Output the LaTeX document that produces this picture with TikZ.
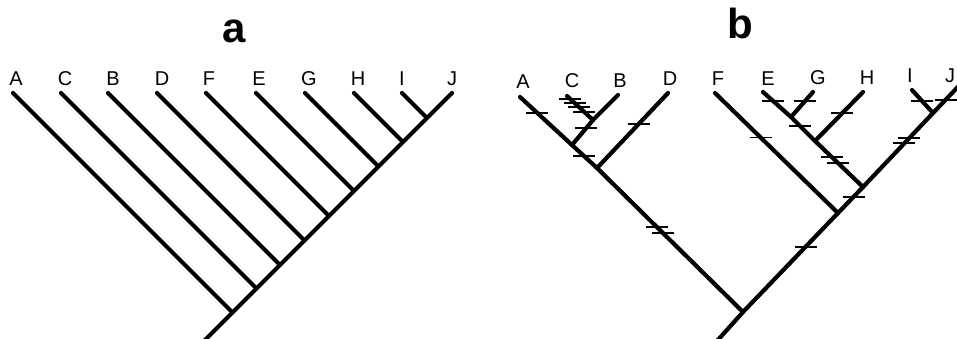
\documentclass[tikz,border=0pt]{standalone}
\usepackage{fontspec}
\setmainfont{Liberation Sans}
\usetikzlibrary{calc}

\newcommand{\hashmark}[3]{\draw[tick] ($(#1)!#3!(#2)$) ++(-11,0) -- ++(22,0);}

\begin{document}
\begin{tikzpicture}[x=1pt, y=-1pt,
  branch/.style={line width=4.2pt, line cap=round, line join=round},
  tick/.style={line width=1.7pt},
  leaf/.style={anchor=base, inner sep=0pt, font=\fontsize{20}{22}\selectfont},
  panel/.style={anchor=base, inner sep=0pt, font=\bfseries\fontsize{42}{46}\selectfont}]
  \useasboundingbox (0,0) rectangle (957,338);

  % panel a: fully pectinate tree
  \node[panel] (ta) at (234,42) {a};
  \coordinate (a0) at (204,341);
  \coordinate (taJ) at (452,93);
  \node[leaf] (laJ) at (452,85) {J};
  \draw[branch] (a0) -- (taJ);
  \foreach \n/\x/\lx in {A/13/16, C/61/65, B/108/113, D/157/162, F/206/209,
                        E/256/259, G/305/309, H/354/358, I/402/402} {
    \coordinate (ta\n) at (\x,93);
    \coordinate (na\n) at ({(451+\x)/2},{(637-\x)/2});
    \node[leaf] (la\n) at (\lx,85) {\n};
    \draw[branch] (ta\n) -- (na\n);
  }

  % panel b: tree with character changes
  \node[panel] (tb) at (740,38) {b};
  \coordinate (b0) at (717,341);
  \coordinate (bAll) at (743,312);
  \coordinate (bABCD) at (597,168);
  \coordinate (bACB) at (572,145);
  \coordinate (bCB) at (593,120);
  \coordinate (bFEGHIJ) at (838,213);
  \coordinate (bEGHIJ) at (863,187);
  \coordinate (bIJ) at (933,113);
  \coordinate (bEGH) at (815,141);
  \coordinate (bEG) at (791,117);
  \coordinate (tbA) at (520,97);
  \coordinate (tbC) at (567,96);
  \coordinate (tbB) at (618,95);
  \coordinate (tbD) at (668,93);
  \coordinate (tbF) at (715,93);
  \coordinate (tbE) at (763,92);
  \coordinate (tbG) at (813,92);
  \coordinate (tbH) at (863,92);
  \coordinate (tbI) at (912,90);
  \coordinate (tbJ) at (975,69);

  \node[leaf] (lbA) at (523,88) {A};
  \node[leaf] (lbC) at (572,87) {C};
  \node[leaf] (lbB) at (620,87) {B};
  \node[leaf] (lbD) at (670,85) {D};
  \node[leaf] (lbF) at (718,85) {F};
  \node[leaf] (lbE) at (768,85) {E};
  \node[leaf] (lbG) at (818,84) {G};
  \node[leaf] (lbH) at (867,84) {H};
  \node[leaf] (lbI) at (910,82) {I};
  \node[leaf] (lbJ) at (950,82) {J};

  \draw[branch] (b0) -- (bAll) -- (bABCD) -- (bACB) -- (tbA);
  \draw[branch] (bACB) -- (bCB) -- (tbB);
  \draw[branch] (bCB) -- (tbC);
  \draw[branch] (bABCD) -- (tbD);
  \draw[branch] (bAll) -- (bFEGHIJ) -- (bEGHIJ) -- (bIJ) -- (tbJ);
  \draw[branch] (bFEGHIJ) -- (tbF);
  \draw[branch] (bEGHIJ) -- (bEGH) -- (bEG) -- (tbE);
  \draw[branch] (bEG) -- (tbG);
  \draw[branch] (bEGH) -- (tbH);
  \draw[branch] (bIJ) -- (tbI);

  % hash marks, left clade
  \hashmark{tbA}{bACB}{0.33}
  \foreach \f in {0.12,0.29,0.46,0.67} {\hashmark{tbC}{bCB}{\f}}
  \hashmark{bCB}{bACB}{0.32}
  \hashmark{bACB}{bABCD}{0.48}
  \hashmark{bABCD}{tbD}{0.59}
  \hashmark{bABCD}{bAll}{0.41}
  \hashmark{bABCD}{bAll}{0.45}
  % hash marks, right clade
  \hashmark{bAll}{bFEGHIJ}{0.66}
  \hashmark{bFEGHIJ}{bEGHIJ}{0.62}
  \hashmark{bEGHIJ}{bIJ}{0.59}
  \hashmark{bEGHIJ}{bIJ}{0.66}
  \hashmark{tbF}{bFEGHIJ}{0.37}
  \hashmark{tbE}{bEG}{0.36}
  \hashmark{tbG}{bEG}{0.36}
  \hashmark{bEG}{bEGH}{0.375}
  \hashmark{tbH}{bEGH}{0.43}
  \hashmark{bEGH}{bEGHIJ}{0.35}
  \hashmark{bEGH}{bEGHIJ}{0.48}
  \hashmark{tbI}{bIJ}{0.48}
  \hashmark{bIJ}{tbJ}{0.3}
\end{tikzpicture}
\end{document}
